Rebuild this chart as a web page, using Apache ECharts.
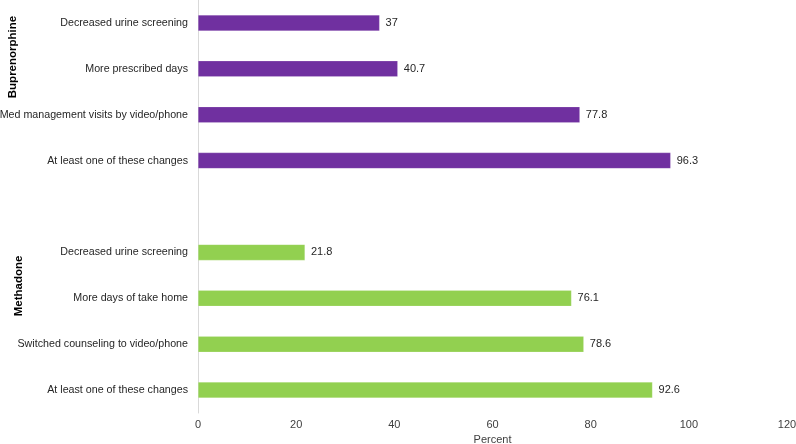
<!DOCTYPE html>
<html>
<head>
<meta charset="utf-8">
<style>
  html, body { margin: 0; padding: 0; background: #fff; }
  #chart { width: 796px; height: 444px; }
</style>
<script src="https://cdn.jsdelivr.net/npm/echarts@6/dist/echarts.min.js"></script>
</head>
<body>
<div id="chart"></div>
<script>
const bupLabels = [
  'Decreased urine screening',
  'More prescribed days',
  'Med management visits by video/phone',
  'At least one of these changes'
]
const bupValues = [37, 40.7, 77.8, 96.3]

const metLabels = [
  'Decreased urine screening',
  'More days of take home',
  'Switched counseling to video/phone',
  'At least one of these changes'
]
const metValues = [21.8, 76.1, 78.6, 92.6]

const xTicks = [0, 20, 40, 60, 80, 100, 120]

const purple = '#7030A0'
const green = '#92D050'

// one empty slot between the two groups
const categories = [...bupLabels, ' ', ...metLabels]
const data = [
  ...bupValues.map(v => ({ value: v, itemStyle: { color: purple } })),
  { value: '-' },
  ...metValues.map(v => ({ value: v, itemStyle: { color: green } }))
]

const chart = echarts.init(document.getElementById('chart'))

const option = {
  animation: false,
  textStyle: { fontFamily: 'Liberation Sans, Arial, sans-serif' },
  grid: { left: 198, right: 9, top: 0, bottom: 31, containLabel: false, outerBoundsMode: 'none' },
  xAxis: {
    type: 'value',
    min: xTicks[0],
    max: xTicks[xTicks.length - 1],
    interval: 20,
    axisLine: { show: false },
    axisTick: { show: false },
    splitLine: { show: false },
    axisLabel: { color: '#404040', fontSize: 11, margin: 6 },
    name: 'Percent',
    nameLocation: 'middle',
    nameGap: 21,
    nameTextStyle: { color: '#404040', fontSize: 11 }
  },
  yAxis: {
    type: 'category',
    inverse: true,
    data: categories,
    axisLine: { show: true, lineStyle: { color: '#d9d9d9', width: 1 } },
    axisTick: { show: false },
    axisLabel: { color: '#262626', fontSize: 10.7, margin: 10 }
  },
  series: [
    {
      type: 'bar',
      data: data,
      barWidth: 16,
      itemStyle: { borderColor: 'rgba(255,255,255,0.35)', borderWidth: 0.5 },
      label: {
        show: true,
        position: 'right',
        distance: 6,
        color: '#262626',
        fontSize: 11
      }
    }
  ],
  graphic: [
    {
      type: 'text',
      x: 13,
      y: 57,
      rotation: Math.PI / 2,
      style: {
        text: 'Buprenorphine',
        fill: '#000',
        font: 'bold 11.5px Liberation Sans, Arial, sans-serif',
        align: 'center',
        verticalAlign: 'middle'
      }
    },
    {
      type: 'text',
      x: 19,
      y: 286,
      rotation: Math.PI / 2,
      style: {
        text: 'Methadone',
        fill: '#000',
        font: 'bold 11.5px Liberation Sans, Arial, sans-serif',
        align: 'center',
        verticalAlign: 'middle'
      }
    }
  ]
}

chart.setOption(option)
</script>
</body>
</html>
